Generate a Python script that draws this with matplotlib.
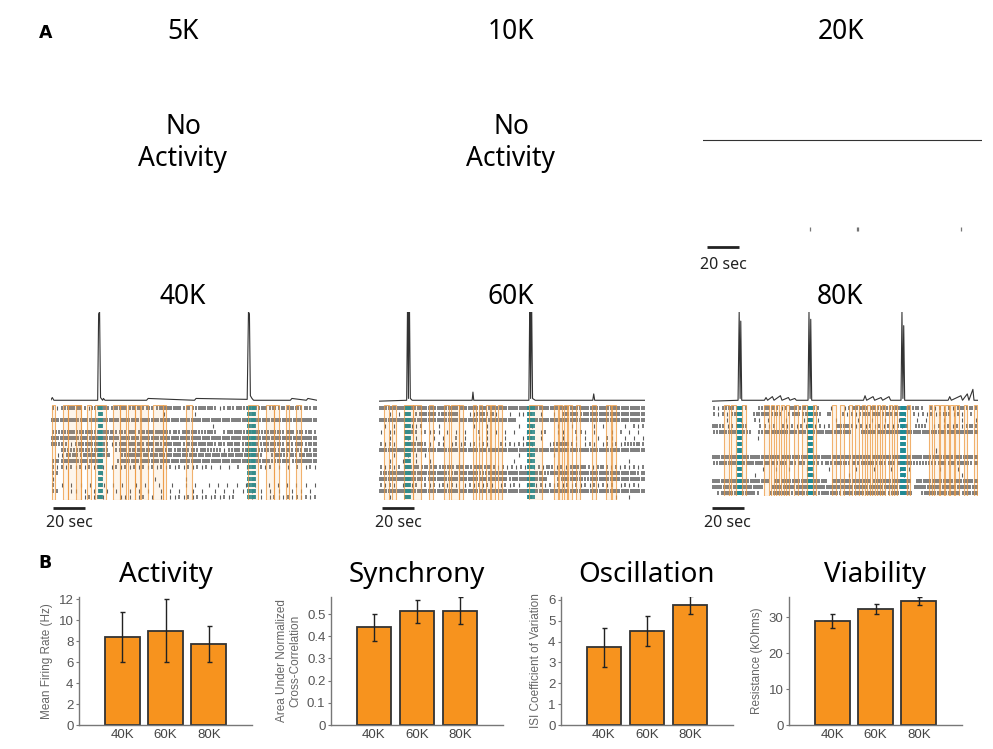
import matplotlib
matplotlib.use("Agg")
import matplotlib.pyplot as plt
import matplotlib.transforms as mtransforms
from matplotlib.patches import Rectangle

W, H = 993, 749
TITLE_FONT = ['Noto Sans', 'DejaVu Sans']
TICK_FONT = ['Liberation Sans', 'DejaVu Sans']

# ---------------- panel A data (times in seconds) ----------------
duration = 166.7
duration_20k = 174.4

# population traces: vertices (time, normalised rate)
trace_40k_t = [0, 1, 2, 29.4, 30.0, 30.6, 31.2, 32.5, 33, 34, 60, 61, 90, 91, 123,
               123.8, 124.4, 125.0, 126, 127, 150, 151, 160, 161, 166.7]
trace_40k_v = [0.03, 0.06, 0.03, 0.03, 0.98, 1.0, 0.06, 0.03, 0.05, 0.03, 0.03, 0.05,
               0.03, 0.05, 0.04, 1.0, 0.98, 0.08, 0.05, 0.03, 0.03, 0.05, 0.03, 0.05, 0.03]

trace_60k_t = [0, 17.5, 18.0, 18.3, 18.6, 19.0, 19.3, 19.8, 21, 58.5, 59, 59.5, 94,
               94.5, 94.8, 95.1, 95.5, 95.8, 96.3, 98, 134, 134.6, 135.2, 166.7]
trace_60k_v = [0.02, 0.03, 1.0, 1.0, 0.05, 1.0, 1.0, 0.05, 0.03, 0.03, 0.12, 0.03, 0.03,
               1.0, 1.0, 0.05, 1.0, 1.0, 0.05, 0.03, 0.03, 0.1, 0.03, 0.03]

trace_80k_t = [0, 16.5, 17.2, 17.8, 18.2, 18.8, 33, 34, 35, 38, 39, 43, 44, 48, 49, 52,
               53, 60.3, 60.9, 61.6, 62.0, 62.6, 95, 96, 97, 101, 102, 106, 107, 111,
               112, 118.5, 119.1, 119.7, 120.2, 120.8, 148, 149, 150, 156, 157, 160,
               161, 163.5, 164.2, 166.7]
trace_80k_v = [0.02, 0.03, 1.0, 0.05, 0.9, 0.03, 0.03, 0.06, 0.03, 0.07, 0.03, 0.08,
               0.03, 0.06, 0.03, 0.05, 0.03, 0.03, 1.0, 0.05, 0.92, 0.03, 0.03, 0.08,
               0.03, 0.07, 0.03, 0.06, 0.03, 0.07, 0.03, 0.03, 1.0, 0.05, 0.85, 0.03,
               0.03, 0.07, 0.03, 0.08, 0.03, 0.1, 0.03, 0.15, 0.03, 0.03]

trace_20k_t = [0, 174.4]
trace_20k_v = [0.03, 0.03]

# network bursts (cyan) and detected bursts (orange boxes)
bursts_40k = [(29.6, 32.7), (123.3, 128.5)]
bursts_60k = [(16.0, 20.8), (93.1, 97.9)]
bursts_80k = [(16.0, 19.2), (59.8, 63.3), (118.1, 121.7)]

boxes_40k = [(0.8, 2.9), (7.7, 10.8), (10.8, 18.75), (16.0, 19.2), (22.9, 25.4),
             (27.5, 34.8), (39.0, 43.1), (43.1, 47.3), (48.3, 52.5), (52.5, 55.6),
             (56.7, 60.8), (63.9, 70.2), (70.2, 72.3), (84.8, 88.3), (123.3, 129.6),
             (134.8, 140.0), (140.0, 143.1), (147.3, 149.4), (153.5, 156.7)]
boxes_60k = [(3.5, 6.25), (8.3, 10.8), (16.0, 21.25), (21.25, 26.5), (31.7, 33.75),
             (41.0, 43.75), (45.2, 50.4), (50.4, 52.9), (58.75, 60.8), (62.5, 64.6),
             (67.1, 69.6), (70.2, 72.7), (74.4, 76.9), (94.2, 102.5), (109.8, 112.3),
             (112.9, 115.0), (116.0, 118.1), (118.75, 121.25), (123.3, 125.8),
             (133.75, 135.8), (142.1, 145.2), (145.8, 148.75)]
boxes_80k = [(7.7, 10.8), (11.9, 15.0), (19.2, 21.25), (32.7, 35.8), (36.9, 39.0),
             (40.0, 42.1), (43.1, 45.2), (46.25, 48.3), (51.5, 54.2), (56.7, 59.8),
             (63.3, 65.4), (75.4, 77.5), (80.6, 82.7), (85.8, 87.9), (90.0, 92.1),
             (94.2, 96.25), (97.3, 99.4), (100.4, 102.5), (103.5, 105.6), (106.7, 108.75),
             (110.8, 112.9), (114.0, 116.0), (122.3, 124.4), (135.8, 137.9), (139.0, 142.1),
             (143.1, 145.2), (146.25, 148.3), (149.4, 151.5), (152.5, 154.6),
             (157.7, 159.8), (164.0, 166.0)]

# raster rows: one character per time bin, '#' dense, '+' medium, '.' single spike
rows_40k = [
    "+.+####+.#+##+###+##+#++#####+#+####+.+#+##+#+##+#+#+##+#+#",
    "                         .      .                           ",
    "############################################################",
    "                                    .                       ",
    "+#+###+###+###+#+##+######+#+####+##+ +####+###+###+##+#+#+",
    "############################################################",
    "##++.+######+.+#####+###+####+######+#+###+###+####+#+##+##",
    "  +#+#+#+###+ +##+####+##+#+##+#+##+#+.+##+#++#+##+##+#+#+#",
    " ..+##+####+#  +##############################  ###+#+####",
    "+#+########+   ###############################+###+###+#####",
    "+.+.+.+.+.+. .+.+.+.+.+.+.+.+.+.+.+. . . + .  +.+ . . + .+.",
    "++         .                                                ",
    ".                      .      .                             ",
    "+ . . . .  . . .  . .  .  .  . .  . . . . . .  . . . . . .",
    "++  .. . .  . .  . . .  . . .  . .  . . . . . . . .  . . . ",
    "       .+.+.   ... .+ . . ..+.+.+.+.+.+.+   . . .+..+.+.+.+",
]
rows_60k = [
    "############################################################",
    "  . .   +####+####  ..##+#.  . ..   .  . +###+##############",
    "###############################   ##########################",
    " . .   ..+   .       .  .      .  .     .  .    . .    . +.+",
    ". ..  +++.+.+. . . .  + . . . .  .  .+  ..  ++. .   . + . . ",
    "  .   . .   . .  + .  . .   .   .   .    .  . .  . +.  . . .",
    "+.+.  +###+. +. .+.+.+.+.  +.+.+.+.   .+###+. .+. .+.+.+#+#+",
    "############################################################",
    "   .  . . .                    .       .                    ",
    "  .  .  .  .                  .                         .   ",
    "+.+.+.+##+#+#+##+###+##+#+.+.+.+.+.+.#+.+.+###+.+#+.+.+.+.+",
    "+###############+######+#############+####################+#",
    "######+###+##################+########  +#####+#############",
    "+.+. . .+.+.+.+.+. .+.+.+. .+.+. .+.+.+.+.+.+.+.+.+.+ .+.+. ",
    "############################################################",
    "  .                                                  .  .   ",
]
rows_80k = [
    "+.+##+#+  +###+.+##+#+#+  .  .+###+##+#+#+##+#+ +.+.+.+#+#+",
    "+.+.+#+  +###+#+ +##+#+#+ #  +.+.+#+##+#+#+. +.+.+.+#+.+. + ",
    "   .  .  +. .   .   .  .   .    .  .  .  .   . .   .   .  .",
    "##+.++#+  ++.+ +.+.+.+.+.+ ###+.+.+.+.+.+.+ +#+ .+.+.+.+#+",
    "+#######+ +####################  ##########################",
    "          .                                                 ",
    "                                                            ",
    "                                                  .         ",
    "############################################################",
    "+#############+#+#+#+##++#+###+#+###+#+#+#+##+#+#+##+#+##+#",
    "           .  .  .   .    .     .   .   . . .      .   .    ",
    "         .            .       .           .            .   ",
    "############# ############ #########+######## ##############",
    "####+#######  ################################ ###############",
    " +########+  +####+#####+####+##########+#####  #########+###",
]
rows_20k_count = 16
spikes_20k = [66.9, 96.0, 96.8, 161.3]   # all on the bottom row

# ---------------- panel B data ----------------
groups = ['40K', '60K', '80K']
activity = [8.4, 9.0, 7.75]
activity_err = [2.4, 3.0, 1.72]
synchrony = [0.44, 0.512, 0.515]
synchrony_err = [0.06, 0.05, 0.06]
oscillation = [3.72, 4.52, 5.75]
oscillation_err = [0.95, 0.73, 0.42]
viability = [28.9, 32.3, 34.5]
viability_err = [1.85, 1.3, 1.2]

fig = plt.figure(figsize=(W / 100, H / 100), dpi=100)


def px_box(x0, y0, x1, y1):
    return [x0 / W, 1 - y1 / H, (x1 - x0) / W, (y1 - y0) / H]


def draw_trace(box, t, v, xmax):
    ax = fig.add_axes(px_box(*box))
    ax.plot(t, v, color='#333333', lw=0.8)
    ax.set_xlim(0, xmax)
    ax.set_ylim(0, 1.0)
    ax.axis('off')
    return ax


def draw_raster(box, rows, bursts, boxes, xmax):
    ax = fig.add_axes(px_box(*box))
    n = len(rows)
    counts = {'#': 2, '+': 1, '.': 1}
    widths = {'#': 1.1, '+': 1.1, '.': 0.8}
    for r, row in enumerate(rows):
        bw = xmax / len(row)
        xs, lws = [], []
        for i, ch in enumerate(row):
            k = counts.get(ch, 0)
            for j in range(k):
                xs.append(i * bw + (j + 0.5) * bw / k)
                lws.append(widths[ch])
        if xs:
            ax.vlines(xs, r - 0.34, r + 0.34, colors='#1c1c1c', alpha=0.72, linewidths=lws)
        for b0, b1 in bursts:
            bt = [b0 + 0.35 + 0.7 * j for j in range(int((b1 - b0) / 0.7))]
            ax.vlines(bt, r - 0.34, r + 0.34, colors='#1f8a94', linewidths=1.3)
    for b0, b1 in boxes:
        ax.add_patch(Rectangle((b0, -0.5), b1 - b0, n, facecolor=(0.96, 0.62, 0.25, 0.10),
                               edgecolor=(0.93, 0.6, 0.25, 0.75), lw=0.8, zorder=3))
    ax.set_xlim(0, xmax)
    ax.set_ylim(n - 0.5, -0.5)
    ax.axis('off')
    return ax


def scale_bar(ax, t0, y_px, text_y_px):
    tr = mtransforms.blended_transform_factory(ax.transData, fig.transFigure)
    ax.plot([t0, t0 + 20], [1 - y_px / H] * 2, color='#222222', lw=2.0,
            transform=tr, clip_on=False, solid_capstyle='butt')
    ax.text(t0 + 10, 1 - text_y_px / H, '20 sec', transform=tr, ha='center', va='center',
            fontsize=11.5, family=TITLE_FONT, color='#222222')


# ---- panel A ----
fig.text(46 / W, 1 - 33 / H, 'A', fontsize=12.5, fontweight='bold', ha='center', va='center')
for x, lab in [(183, '5K'), (511, '10K'), (841, '20K'), (183, '40K'), (511, '60K'), (840, '80K')]:
    y = 32 if lab in ('5K', '10K', '20K') else 297
    fig.text(x / W, 1 - y / H, lab, fontsize=19, family=TITLE_FONT, ha='center', va='center')
for x in (183, 511):
    fig.text(x / W, 1 - 143 / H, 'No\nActivity', fontsize=19, family=TITLE_FONT,
             ha='center', va='center', linespacing=1.15)

# 20K
draw_trace((703, 52, 982, 143), trace_20k_t, trace_20k_v, duration_20k)
ax20 = fig.add_axes(px_box(703, 145, 982, 232))
ax20.vlines(spikes_20k, rows_20k_count - 1.4, rows_20k_count - 0.6, colors='#555555',
            linewidths=0.9, alpha=0.8)
ax20.set_xlim(0, duration_20k)
ax20.set_ylim(rows_20k_count - 0.5, -0.5)
ax20.axis('off')
scale_bar(ax20, 2.5, 247, 265)

# 40K / 60K / 80K
panels = [
    (50.7, 317, 500, trace_40k_t, trace_40k_v, rows_40k, bursts_40k, boxes_40k, 1.4),
    (378.7, 645, 500, trace_60k_t, trace_60k_v, rows_60k, bursts_60k, boxes_60k, 2.1),
    (711.7, 978, 496, trace_80k_t, trace_80k_v, rows_80k, bursts_80k, boxes_80k, 0.0),
]
for x0, x1, yb, tt, tv, rows, bursts, boxes, sb in panels:
    draw_trace((x0, 312, x1, 403), tt, tv, duration)
    axr = draw_raster((x0, 405, x1, yb), rows, bursts, boxes, duration)
    scale_bar(axr, sb, 508, 523)

# ---- panel B ----
fig.text(45 / W, 1 - 563 / H, 'B', fontsize=12.5, fontweight='bold', ha='center', va='center')


def bar_panel(box, values, errs, title, ylabel, yticks, yticklabels, ytop):
    ax = fig.add_axes(px_box(*box))
    x = [1, 2, 3]
    ax.bar(x, values, width=0.8, color='#f7931e', edgecolor='#333333', linewidth=1.3,
           yerr=errs, error_kw=dict(ecolor='#222222', elinewidth=1.0, capsize=1.8, capthick=1.0))
    ax.set_xlim(0, 4)
    ax.set_ylim(0, ytop)
    ax.set_xticks(x)
    ax.set_xticklabels(groups, family=TICK_FONT, fontsize=9.5, color='#444444')
    ax.set_yticks(yticks)
    ax.set_yticklabels(yticklabels, family=TICK_FONT, fontsize=9.5, color='#555555')
    ax.tick_params(axis='x', length=0, pad=3)
    ax.tick_params(axis='y', length=2, pad=2, color='#777777')
    for s in ('top', 'right'):
        ax.spines[s].set_visible(False)
    for s in ('left', 'bottom'):
        ax.spines[s].set_color('#777777')
        ax.spines[s].set_linewidth(1.0)
    ax.set_ylabel(ylabel, family=TICK_FONT, fontsize=8.5, color='#666666', labelpad=4)
    ax.set_title(title, family=TITLE_FONT, fontsize=20, pad=11)
    return ax


bar_panel((79, 597, 252, 725), activity, activity_err, 'Activity', 'Mean Firing Rate (Hz)',
          [0, 2, 4, 6, 8, 10, 12], ['0', '2', '4', '6', '8', '10', '12'], 12.2)
bar_panel((331, 597, 503, 725), synchrony, synchrony_err, 'Synchrony',
          'Area Under Normalized\nCross-Correlation',
          [0, 0.1, 0.2, 0.3, 0.4, 0.5], ['0', '0.1', '0.2', '0.3', '0.4', '0.5'], 0.577)
bar_panel((561, 597, 733, 725), oscillation, oscillation_err, 'Oscillation',
          'ISI Coefficient of Variation',
          [0, 1, 2, 3, 4, 5, 6], ['0', '1', '2', '3', '4', '5', '6'], 6.14)
bar_panel((789, 597, 962, 725), viability, viability_err, 'Viability', 'Resistance (kOhms)',
          [0, 10, 20, 30], ['0', '10', '20', '30'], 35.6)

fig.savefig('out.png', dpi=100, facecolor='white')
